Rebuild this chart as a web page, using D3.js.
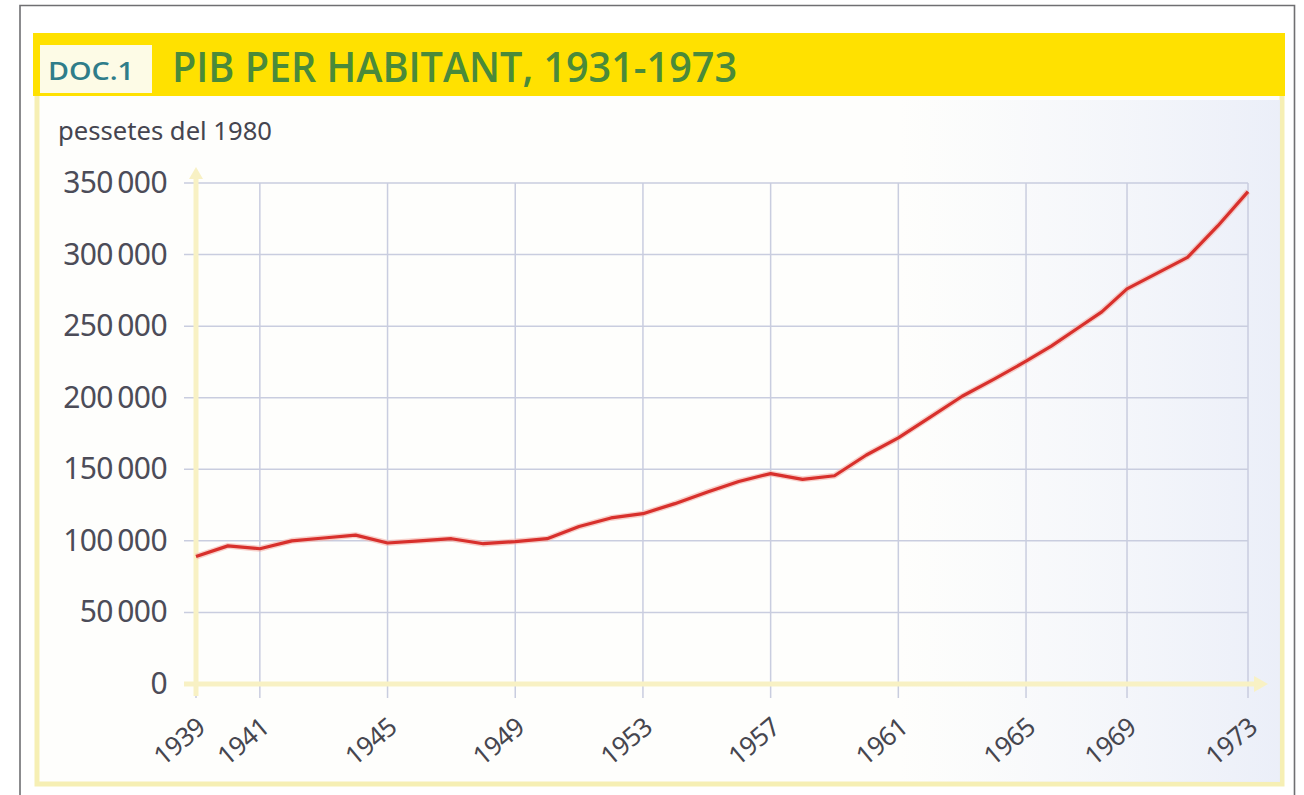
<!DOCTYPE html>
<html><head><meta charset="utf-8">
<script src="https://cdn.jsdelivr.net/npm/d3@7"></script>
<style>body{margin:0;background:#fff}svg{display:block}</style>
</head><body>
<script>
const years = [1939,1940,1941,1942,1943,1944,1945,1946,1947,1948,1949,1950,1951,1952,1953,1954,1955,1956,1957,1958,1959,1960,1961,1962,1963,1964,1965,1966,1967,1968,1969,1970,1971,1972,1973];
const gdp = [89000,96500,94500,100000,102000,104000,98500,100000,101500,98000,99500,101500,110000,116000,119000,126000,134000,141500,147000,143000,145500,160000,172000,186500,201000,213000,225500,236000,248000,260000,276000,287000,298000,320000,344000];
const xTicks = [1939,1941,1945,1949,1953,1957,1961,1965,1969,1973];
const yTicks = [0,50000,100000,150000,200000,250000,300000,350000];
const docLabel = "DOC.1";
const title = "PIB PER HABITANT, 1931-1973";
const unitLabel = "pessetes del 1980";

(function () {
const W = 1304, H = 795;
const svg = d3.select("body").append("svg").attr("width", W).attr("height", H);

svg.append("rect").attr("width", W).attr("height", H).attr("fill", "#ffffff");
svg.append("path").attr("d", "M20,800 L20,5.5 L1294.5,5.5 L1294.5,800")
  .attr("fill", "none").attr("stroke", "#6f6f72").attr("stroke-width", 1.6);

svg.append("rect").attr("x", 37).attr("y", 90).attr("width", 1245).attr("height", 694)
  .attr("fill", "#fefefc").attr("stroke", "#f6efb4").attr("stroke-width", 5);

const grad = svg.append("defs").append("linearGradient").attr("id", "tint")
  .attr("x1", 0).attr("x2", 1).attr("y1", 0).attr("y2", 0);
grad.append("stop").attr("offset", "0%").attr("stop-color", "#eef1fa").attr("stop-opacity", 0);
grad.append("stop").attr("offset", "100%").attr("stop-color", "#e9edf8").attr("stop-opacity", 0.9);
svg.append("rect").attr("x", 900).attr("y", 100).attr("width", 380).attr("height", 682).attr("fill", "url(#tint)");

svg.append("rect").attr("x", 33).attr("y", 33).attr("width", 1252).attr("height", 63).attr("fill", "#ffe100");
svg.append("rect").attr("x", 40).attr("y", 45).attr("width", 112).attr("height", 48).attr("fill", "#fdfbe6");
svg.append("text").attr("x", 48).attr("y", 80).text(docLabel)
  .attr("font-family", "Open Sans").attr("font-weight", 600).attr("font-size", 26)
  .attr("fill", "#2f7d8a").attr("textLength", 86).attr("lengthAdjust", "spacingAndGlyphs");
svg.append("text").attr("x", 172).attr("y", 82).text(title)
  .attr("font-family", "Open Sans").attr("font-weight", 600).attr("font-size", 41)
  .attr("fill", "#4a8a3a").attr("textLength", 565).attr("lengthAdjust", "spacingAndGlyphs");

svg.append("text").attr("x", 58).attr("y", 140).text(unitLabel)
  .attr("font-family", "Noto Sans").attr("font-size", 26).attr("fill", "#454550")
  .attr("textLength", 214).attr("lengthAdjust", "spacingAndGlyphs");

const pl = 196, pr = 1248, pt = 183, pb = 684;
const pw = pr - pl;
const x = d3.scaleLinear().domain([1939, 1965, 1969, 1973])
  .range([pl, pl + pw * 0.789, pl + pw * 0.885, pr]);
const y = d3.scaleLinear().domain([0, 350000]).range([pb, pt]);
const fmt = d3.formatLocale({decimal: ",", thousands: "\u2009", grouping: [3], currency: ["", ""]}).format(",");

const gridColor = "#c9cddf";
svg.append("g").selectAll("line").data(yTicks.filter(d => d > 0)).join("line")
  .attr("x1", pl - 12).attr("x2", pr).attr("y1", d => y(d)).attr("y2", d => y(d))
  .attr("stroke", gridColor).attr("stroke-width", 1.5);
svg.append("g").selectAll("line").data(xTicks).join("line")
  .attr("x1", d => x(d)).attr("x2", d => x(d)).attr("y1", pt).attr("y2", pb + 14)
  .attr("stroke", gridColor).attr("stroke-width", 1.5);

const axisCol = "#f8f1c4";
svg.append("line").attr("x1", pl - 12).attr("x2", pr + 8).attr("y1", pb).attr("y2", pb)
  .attr("stroke", axisCol).attr("stroke-width", 5);
svg.append("path").attr("d", `M${pr + 6},${pb - 8} L${pr + 20},${pb} L${pr + 6},${pb + 8}Z`).attr("fill", axisCol);
svg.append("line").attr("x1", pl).attr("x2", pl).attr("y1", pb + 12).attr("y2", pt - 6)
  .attr("stroke", axisCol).attr("stroke-width", 5);
svg.append("path").attr("d", `M${pl - 7},${pt - 4} L${pl},${pt - 16} L${pl + 7},${pt - 4}Z`).attr("fill", axisCol);

svg.append("g").selectAll("text").data(yTicks).join("text")
  .attr("x", 167).attr("y", d => y(d) + 10).attr("text-anchor", "end")
  .attr("font-family", "Noto Sans").attr("font-size", 30).attr("letter-spacing", -0.6)
  .attr("fill", "#4c4c58").text(d => fmt(d));

svg.append("g").selectAll("text").data(xTicks).join("text")
  .attr("transform", d => `translate(${x(d) + 11},${pb + 46}) rotate(-40)`)
  .attr("text-anchor", "end")
  .attr("font-family", "Noto Sans").attr("font-size", 26).attr("letter-spacing", -0.6)
  .attr("fill", "#46464f").text(d => d);

const line = d3.line().x((d, i) => x(years[i])).y(d => y(d));
svg.append("path").datum(gdp).attr("d", line).attr("fill", "none")
  .attr("stroke", "#f4b0a8").attr("stroke-width", 6).attr("stroke-linejoin", "round").attr("opacity", 0.6);
svg.append("path").datum(gdp).attr("d", line).attr("fill", "none")
  .attr("stroke", "#d8302c").attr("stroke-width", 3.2).attr("stroke-linejoin", "round");
})();
</script>
</body></html>
